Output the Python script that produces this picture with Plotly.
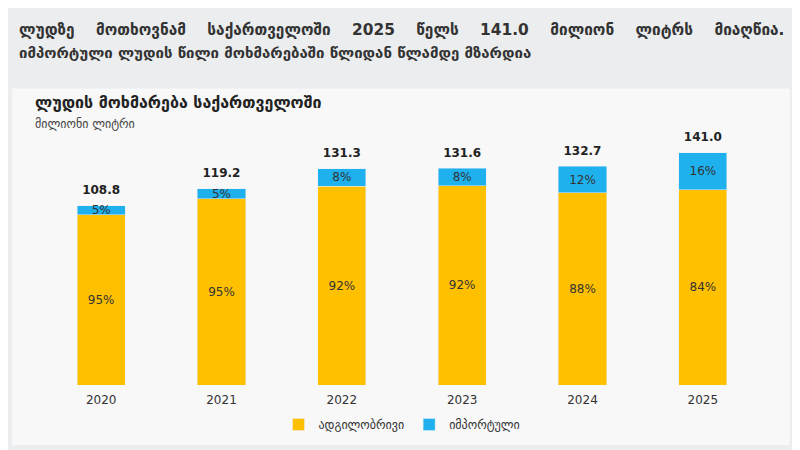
import plotly.graph_objects as go

years = ["2020", "2021", "2022", "2023", "2024", "2025"]
totals = [108.8, 119.2, 131.3, 131.6, 132.7, 141.0]
local_pct = [95, 95, 92, 92, 88, 84]
import_pct = [5, 5, 8, 8, 12, 16]

local_vals = [t * p / 100 for t, p in zip(totals, local_pct)]
import_vals = [t * p / 100 for t, p in zip(totals, import_pct)]

fig = go.Figure()
fig.add_trace(go.Bar(
    x=years, y=local_vals, name="ადგილობრივი", marker_color="#FFC000",
    text=[f"{p}%" for p in local_pct], textposition="inside", insidetextanchor="middle",
    textfont=dict(color="#333333", size=12),
))
fig.add_trace(go.Bar(
    x=years, y=import_vals, name="იმპორტული", marker_color="#1EB1EE",
    text=[f"{p}%" for p in import_pct], textposition="inside", insidetextanchor="middle",
    textfont=dict(color="#333333", size=12),
))
# total labels above the stacks; invisible marker pushes the text up a little
fig.add_trace(go.Scatter(
    x=years, y=totals, mode="markers+text",
    marker=dict(size=12, color="rgba(0,0,0,0)"),
    text=[f"<b>{t:.1f}</b>" for t in totals],
    textposition="top center", textfont=dict(size=12, color="#222222"),
    showlegend=False, hoverinfo="skip", cliponaxis=False,
))

fig.add_shape(type="rect", xref="paper", yref="paper", x0=-0.04, x1=1.037, y0=-0.243, y1=1.2,
              fillcolor="#F8F8F8", line_width=0, layer="below")

fig.update_layout(
    width=800, height=450,
    barmode="stack", bargap=0.6,
    paper_bgcolor="#EBEDEF", plot_bgcolor="#F8F8F8",
    margin=dict(l=33, r=45, t=130, b=73),
    font=dict(family="DejaVu Sans", color="#333333"),
    uniformtext=dict(minsize=12, mode="show"),
    xaxis=dict(showgrid=False, showline=False, ticklabelstandoff=6,
               tickfont=dict(size=12, color="#333333")),
    yaxis=dict(visible=False, range=[0, 150]),
    legend=dict(orientation="h", x=0.5, xanchor="center", y=-0.16, yanchor="middle",
                font=dict(size=12), traceorder="normal", bgcolor="rgba(0,0,0,0)"),
    annotations=[
        dict(xref="paper", yref="paper", x=-0.033, y=1.437, xanchor="left", yanchor="middle", showarrow=False,
             text="<b>ლუდზე    მოთხოვნამ    საქართველოში    2025    წელს    141.0    მილიონ    ლიტრს    მიაღწია.</b>",
             font=dict(size=15.4, color="#333333")),
        dict(xref="paper", yref="paper", x=-0.033, y=1.344, xanchor="left", yanchor="middle", showarrow=False,
             text="<b>იმპორტული ლუდის წილი მოხმარებაში წლიდან წლამდე მზარდია</b>",
             font=dict(size=15, color="#333333")),
        dict(xref="paper", yref="paper", x=-0.011, y=1.142, xanchor="left", yanchor="middle", showarrow=False,
             text="<b>ლუდის მოხმარება საქართველოში</b>",
             font=dict(size=16, color="#222222")),
        dict(xref="paper", yref="paper", x=-0.011, y=1.057, xanchor="left", yanchor="middle", showarrow=False,
             text="მილიონი ლიტრი", font=dict(size=12, color="#444444")),
    ],
)
fig.write_html("out.html")
